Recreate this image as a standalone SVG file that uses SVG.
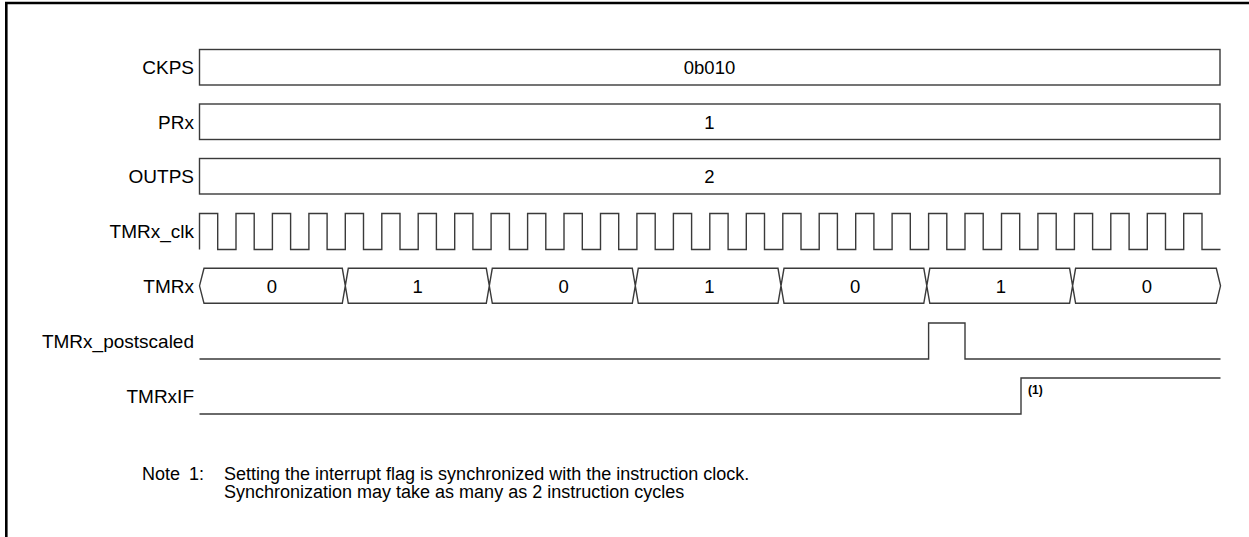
<svg xmlns="http://www.w3.org/2000/svg" width="1249" height="537" viewBox="0 0 1249 537">
<style>
.lbl{font-family:"Liberation Sans",Arial,sans-serif;font-size:19px;fill:#000;text-anchor:end;dominant-baseline:central}
.val{font-family:"Liberation Sans",Arial,sans-serif;font-size:18.5px;fill:#000;text-anchor:middle;dominant-baseline:central}
.box{fill:#fff;stroke:#3a3a3a;stroke-width:1.4}
.sig{fill:none;stroke:#3a3a3a;stroke-width:1.4}
.note{font-family:"Liberation Sans",Arial,sans-serif;font-size:18px;fill:#000}
</style>
<rect width="1249" height="537" fill="#fff"/>
<path d="M6.3,537 V3 H1249" fill="none" stroke="#000" stroke-width="2.6"/>
<g id="ckps">
<text class="lbl" x="194" y="67">CKPS</text>
<rect class="box" x="199.5" y="49.5" width="1020.5" height="35.5"/>
<text class="val" x="709.5" y="67.5">0b010</text>
</g>
<g id="prx">
<text class="lbl" x="194" y="122">PRx</text>
<rect class="box" x="199.5" y="104" width="1020.5" height="35.5"/>
<text class="val" x="709.5" y="122">1</text>
</g>
<g id="outps">
<text class="lbl" x="194" y="176.5">OUTPS</text>
<rect class="box" x="199.5" y="158.5" width="1020.5" height="35.5"/>
<text class="val" x="709.5" y="176.5">2</text>
</g>
<g id="tmrx_clk">
<text class="lbl" x="194" y="231.5">TMRx_clk</text>
<path class="sig" d="M199.5,249.5 V213.5 H217.7 V249.5 H236 V213.5 H254.2 V249.5 H272.4 V213.5 H290.6 V249.5 H308.9 V213.5 H327.1 V249.5 H345.3 V213.5 H363.5 V249.5 H381.8 V213.5 H400 V249.5 H418.2 V213.5 H436.4 V249.5 H454.7 V213.5 H472.9 V249.5 H491.1 V213.5 H509.4 V249.5 H527.6 V213.5 H545.8 V249.5 H564 V213.5 H582.3 V249.5 H600.5 V213.5 H618.7 V249.5 H636.9 V213.5 H655.2 V249.5 H673.4 V213.5 H691.6 V249.5 H709.8 V213.5 H728.1 V249.5 H746.3 V213.5 H764.5 V249.5 H782.8 V213.5 H801 V249.5 H819.2 V213.5 H837.4 V249.5 H855.7 V213.5 H873.9 V249.5 H892.1 V213.5 H910.3 V249.5 H928.6 V213.5 H946.8 V249.5 H965 V213.5 H983.2 V249.5 H1001.5 V213.5 H1019.7 V249.5 H1037.9 V213.5 H1056.2 V249.5 H1074.4 V213.5 H1092.6 V249.5 H1110.8 V213.5 H1129.1 V249.5 H1147.3 V213.5 H1165.5 V249.5 H1183.7 V213.5 H1202 V249.5 H1220.5"/>
</g>
<g id="tmrx">
<text class="lbl" x="194" y="286">TMRx</text>
<path class="sig" d="M199.5,285.8 L204,268.3 H342.3 L348.3,303.3 H486.3 L492.3,268.3 H632.3 L638.3,303.3 H778 L784,268.3 H923.8 L929.8,303.3 H1069.6 L1075.6,268.3 H1216.3 L1220.5,285.8 L1216.3,303.3 H1075.6 L1069.6,268.3 H929.8 L923.8,303.3 H784 L778,268.3 H638.3 L632.3,303.3 H492.3 L486.3,268.3 H348.3 L342.3,303.3 H204 Z"/>
<text class="val" x="272" y="286">0</text>
<text class="val" x="417.7" y="286">1</text>
<text class="val" x="563.6" y="286">0</text>
<text class="val" x="709.4" y="286">1</text>
<text class="val" x="855.2" y="286">0</text>
<text class="val" x="1001" y="286">1</text>
<text class="val" x="1147" y="286">0</text>
</g>
<g id="tmrx_postscaled">
<text class="lbl" x="194" y="341">TMRx_postscaled</text>
<path class="sig" d="M199.5,359 H928.6 V323 H965 V359 H1220.5"/>
</g>
<g id="tmrxif">
<text class="lbl" x="194" y="396">TMRxIF</text>
<path class="sig" d="M199.5,414 H1021 V378 H1220.5"/>
<text x="1028" y="394" font-family="'Liberation Sans',Arial,sans-serif" font-size="12" font-weight="bold">(1)</text>
</g>
<g id="note">
<text class="note" x="142" y="480">Note</text>
<text class="note" x="189" y="480">1:</text>
<text class="note" x="224" y="480">Setting the interrupt flag is synchronized with the instruction clock.</text>
<text class="note" x="224" y="498">Synchronization may take as many as 2 instruction cycles</text>
</g>
</svg>
